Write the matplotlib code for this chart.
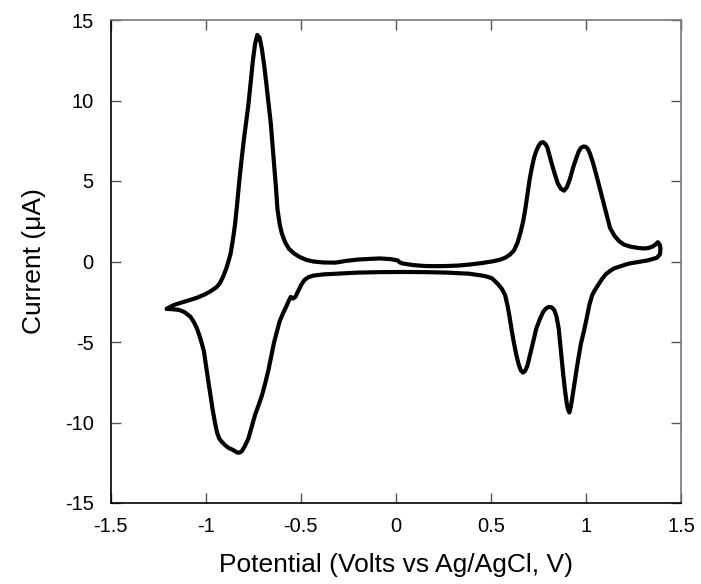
import matplotlib
matplotlib.use("Agg")
import matplotlib.pyplot as plt

# Anodic (forward) sweep: from left vertex to right vertex
fwd_potential = [-1.204, -1.170, -1.138, -1.090, -1.045, -1.005, -0.974, -0.945, -0.927,
                 -0.908, -0.892, -0.880, -0.869, -0.857, -0.845, -0.833, -0.822,
                 -0.810, -0.798, -0.786, -0.775, -0.763, -0.751, -0.740, -0.728, -0.716,
                 -0.704, -0.692, -0.681, -0.669, -0.657, -0.641, -0.630, -0.622,
                 -0.610, -0.599, -0.582, -0.563, -0.535, -0.505, -0.470, -0.434, -0.380,
                 -0.317, -0.260, -0.200, -0.140, -0.082, -0.030, 0.010, 0.020, 0.035,
                 0.090, 0.153, 0.210, 0.270, 0.330, 0.387, 0.450, 0.505, 0.545, 0.575,
                 0.600, 0.622, 0.640, 0.657, 0.670, 0.681, 0.693, 0.704, 0.716, 0.728,
                 0.740, 0.751, 0.763, 0.775, 0.787, 0.798, 0.815, 0.833, 0.852, 0.869,
                 0.885, 0.900, 0.915, 0.933, 0.951, 0.963, 0.974, 0.986, 0.998,
                 1.010, 1.021, 1.038, 1.056, 1.074, 1.092, 1.110, 1.127, 1.150, 1.174,
                 1.200, 1.232, 1.270, 1.303, 1.330, 1.350, 1.366, 1.378, 1.388, 1.392, 1.390]
fwd_current = [-2.94, -2.72, -2.59, -2.42, -2.25, -2.05, -1.85, -1.62, -1.39,
               -0.95, -0.46, 0.00, 0.46, 1.30, 2.31, 3.70, 5.09,
               6.40, 7.64, 8.70, 9.72, 11.1, 12.5, 13.5, 14.07, 13.9,
               13.2, 12.2, 11.1, 9.80, 8.56, 6.25, 4.60, 3.24,
               2.30, 1.74, 1.20, 0.81, 0.50, 0.28, 0.10, 0.00, -0.06,
               -0.07, 0.04, 0.12, 0.16, 0.19, 0.15, 0.07, -0.05, -0.12,
               -0.22, -0.28, -0.29, -0.28, -0.25, -0.19, -0.10, 0.00, 0.10, 0.23,
               0.42, 0.69, 1.15, 1.85, 2.50, 3.24, 4.20, 5.09, 5.85, 6.48,
               6.90, 7.18, 7.38, 7.41, 7.30, 7.06, 6.30, 5.56, 4.85, 4.51,
               4.40, 4.62, 5.09, 5.85, 6.48, 6.85, 7.06, 7.14, 7.13,
               7.00, 6.71, 6.10, 5.32, 4.50, 3.70, 2.85, 2.08, 1.60, 1.27,
               1.05, 0.93, 0.85, 0.81, 0.84, 0.93, 1.05, 1.20, 1.05, 0.81, 0.46]

# Cathodic (reverse) sweep: from right vertex back to left vertex
rev_potential = [1.373, 1.350, 1.326, 1.290, 1.256, 1.230, 1.209, 1.180, 1.150, 1.125,
                 1.103, 1.085, 1.068, 1.050, 1.033, 1.018, 1.005, 0.990, 0.974,
                 0.962, 0.951, 0.939, 0.927, 0.920, 0.913, 0.906, 0.899, 0.890, 0.880,
                 0.868, 0.857, 0.845, 0.833, 0.820, 0.805, 0.790, 0.775, 0.757, 0.739,
                 0.716, 0.692, 0.680, 0.669, 0.657, 0.646, 0.634, 0.622, 0.610, 0.599,
                 0.587, 0.575, 0.558, 0.540, 0.522, 0.505, 0.480, 0.458,
                 0.387, 0.270, 0.150, 0.035, -0.080, -0.200, -0.317, -0.380, -0.434,
                 -0.460, -0.481, -0.497, -0.509, -0.520, -0.528, -0.540,
                 -0.552, -0.563, -0.575, -0.592, -0.610, -0.625, -0.641, -0.655, -0.669,
                 -0.686, -0.704, -0.722, -0.739, -0.757, -0.775, -0.793, -0.810,
                 -0.822, -0.833, -0.857, -0.880, -0.898, -0.915, -0.928, -0.939, -0.950,
                 -0.962, -0.974, -0.986, -0.998, -1.009, -1.027, -1.045, -1.062, -1.080,
                 -1.110, -1.138, -1.170, -1.204]
rev_current = [0.23, 0.15, 0.07, 0.00, -0.07, -0.12, -0.19, -0.30, -0.42, -0.60,
               -0.81, -1.08, -1.39, -1.72, -2.08, -2.70, -3.47, -4.30, -5.09,
               -5.90, -6.71, -7.65, -8.56, -9.05, -9.38, -9.20, -8.80, -8.00, -6.94,
               -5.50, -4.17, -3.40, -3.01, -2.85, -2.82, -2.92, -3.13, -3.60, -4.17,
               -5.32, -6.48, -6.80, -6.90, -6.75, -6.37, -5.80, -5.09, -4.30, -3.47,
               -2.70, -2.08, -1.70, -1.44, -1.22, -1.04, -0.94, -0.88,
               -0.76, -0.69, -0.66, -0.65, -0.66, -0.69, -0.76, -0.80, -0.88,
               -0.98, -1.16, -1.45, -1.74, -2.00, -2.20, -2.30,
               -2.20, -2.45, -2.78, -3.20, -3.70, -4.35, -5.09, -5.90, -6.71,
               -7.55, -8.33, -8.95, -9.49, -10.25, -11.0, -11.45, -11.8,
               -11.87, -11.87, -11.70, -11.57, -11.40, -11.2, -11.0, -10.65, -10.05,
               -9.26, -8.35, -7.41, -6.45, -5.56, -4.80, -4.17, -3.75, -3.43,
               -3.15, -3.01, -2.97, -2.94]

x_ticks = [-1.5, -1, -0.5, 0, 0.5, 1, 1.5]
x_tick_labels = ["-1.5", "-1", "-0.5", "0", "0.5", "1", "1.5"]
y_ticks = [-15, -10, -5, 0, 5, 10, 15]
y_tick_labels = ["-15", "-10", "-5", "0", "5", "10", "15"]

plt.rcParams['font.family'] = ['Liberation Sans', 'DejaVu Sans']

fig = plt.figure(figsize=(7.01, 5.84), dpi=100)
ax = fig.add_axes([110.5 / 701, (584 - 503) / 584, (681 - 110.5) / 701, (503 - 20) / 584])

ax.plot(fwd_potential + rev_potential, fwd_current + rev_current,
        color='black', lw=3.0, solid_joinstyle='round', solid_capstyle='round')

ax.set_xlim(-1.5, 1.5)
ax.set_ylim(-15, 15)
ax.set_xticks(x_ticks)
ax.set_xticklabels(x_tick_labels)
ax.set_yticks(y_ticks)
ax.set_yticklabels(y_tick_labels)
ax.tick_params(direction='in', length=7, width=1, top=True, right=True,
               labelsize=14.5, colors='#555555', labelcolor='black')
ax.tick_params(axis='x', pad=10)
ax.tick_params(axis='y', pad=12)

ax.spines['left'].set_color('black')
ax.spines['bottom'].set_color('black')
ax.spines['top'].set_color('#777777')
ax.spines['right'].set_color('#777777')
for s in ax.spines.values():
    s.set_linewidth(1.2)

ax.set_xlabel('Potential (Volts vs Ag/AgCl, V)', fontsize=19, labelpad=12)
ax.set_ylabel('Current (\u03bcA)', fontsize=19, labelpad=14)

fig.savefig('out.png', dpi=100)
